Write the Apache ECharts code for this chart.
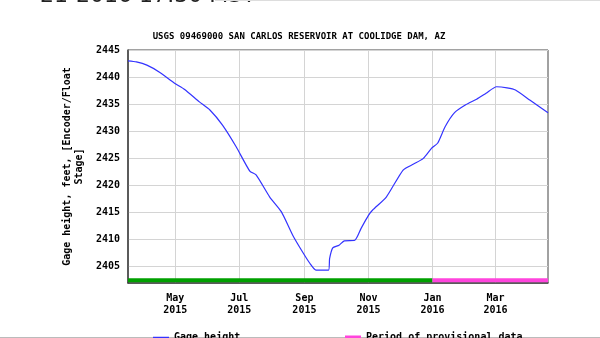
<!DOCTYPE html>
<html>
<head>
<meta charset="utf-8">
<script src="https://cdn.jsdelivr.net/npm/echarts@6/dist/echarts.min.js"></script>
<style>
  html, body { margin: 0; padding: 0; background: #fff; }
  #chart { width: 600px; height: 338px; }
</style>
</head>
<body>
<div id="chart"></div>
<script>
// gage height readings
const dates = ['2015-03-17','2015-03-25','2015-04-04','2015-04-16','2015-04-30','2015-05-10','2015-05-24','2015-06-03','2015-06-15','2015-06-28','2015-07-11','2015-07-17','2015-07-30','2015-08-10','2015-08-21','2015-08-31','2015-09-06','2015-09-12','2015-09-24','2015-09-25','2015-09-28','2015-10-04','2015-10-09','2015-10-19','2015-10-25','2015-11-01','2015-11-05','2015-11-18','2015-12-04','2015-12-14','2015-12-23','2015-12-31','2016-01-06','2016-01-13','2016-01-22','2016-02-02','2016-02-12','2016-02-21','2016-03-02','2016-03-12','2016-03-20','2016-04-03','2016-04-20'];
const gageHeight = [2443.0, 2442.8, 2442.2, 2440.9, 2438.9, 2437.7, 2435.4, 2433.9, 2431.1, 2427.1, 2422.6, 2421.9, 2417.8, 2415.1, 2410.7, 2407.4, 2405.6, 2404.3, 2404.3, 2406.4, 2408.4, 2408.9, 2409.7, 2409.8, 2412.0, 2414.4, 2415.4, 2417.8, 2422.8, 2423.9, 2424.9, 2426.8, 2427.8, 2430.8, 2433.4, 2434.9, 2435.9, 2437.0, 2438.2, 2438.0, 2437.6, 2435.7, 2433.4];

// approved / provisional bars along the bottom
const approvedPeriod = ['2015-03-17', '2016-01-01'];
const provisionalPeriod = ['2016-01-01', '2016-04-20'];
const periodLevel = 2402.4;

const xTicks = ['2015-05-01','2015-07-01','2015-09-01','2015-11-01','2016-01-01','2016-03-01'];
const yTicks = [2405, 2410, 2415, 2420, 2425, 2430, 2435, 2440, 2445];
const months = ['Jan','Feb','Mar','Apr','May','Jun','Jul','Aug','Sep','Oct','Nov','Dec'];

const mono = '"DejaVu Sans Mono", monospace';
const ts = (s) => new Date(s + 'T00:00:00').getTime();

let myChart = echarts.init(document.getElementById('chart'));
let option = {
  animation: false,
  title: {
    text: 'USGS 09469000 SAN CARLOS RESERVOIR AT COOLIDGE DAM, AZ',
    left: 294, textAlign: 'center', top: 27,
    textStyle: { fontFamily: mono, fontSize: 9, fontWeight: 'bold', color: '#000' }
  },
  graphic: [
    {
      // page header that is cut off at the top of the shot
      type: 'text', x: 40, y: 7,
      style: { text: '21-2016 17:30 MST', fontSize: 22, fontFamily: 'DejaVu Sans', fill: '#222', verticalAlign: 'bottom' }
    },
    { type: 'line', shape: { x1: 0, y1: 337.5, x2: 600, y2: 337.5 }, style: { stroke: '#bbb', lineWidth: 1 } },
    { type: 'line', shape: { x1: 215, y1: 0.5, x2: 600, y2: 0.5 }, style: { stroke: '#ddd', lineWidth: 1 } }
  ],
  legend: [
    {
      data: [{ name: 'Gage height', icon: 'rect' }], left: 148, top: 327.5, itemWidth: 16, itemHeight: 1.5,
      textStyle: { fontFamily: mono, fontSize: 10, fontWeight: 'bold', color: '#000' }
    },
    {
      data: [{ name: 'Period of provisional data', icon: 'rect' }], left: 340, top: 327.5, itemWidth: 16, itemHeight: 4,
      textStyle: { fontFamily: mono, fontSize: 10, fontWeight: 'bold', color: '#000' }
    }
  ],
  grid: { left: 128, right: 52, top: 50, bottom: 55, show: true, borderColor: '#444', borderWidth: 1 },
  xAxis: {
    type: 'value',
    min: ts(approvedPeriod[0]),
    max: ts(provisionalPeriod[1]),
    axisLine: { lineStyle: { color: '#444', width: 1.5 } },
    axisTick: { show: false, customValues: xTicks.map(ts) },
    splitLine: { show: true, lineStyle: { color: '#d4d4d4', width: 1 } },
    axisLabel: {
      customValues: xTicks.map(ts),
      margin: 9, lineHeight: 12,
      fontFamily: mono, fontSize: 10, fontWeight: 'bold', color: '#000',
      formatter: function (val) {
        let d = new Date(val);
        return months[d.getMonth()] + '\n' + d.getFullYear();
      }
    }
  },
  yAxis: {
    type: 'value',
    min: 2401.9,
    max: 2445,
    name: 'Gage height, feet, [Encoder/Float\nStage]',
    nameLocation: 'middle',
    nameGap: 38,
    nameTextStyle: { fontFamily: mono, fontSize: 10, fontWeight: 'bold', color: '#000', lineHeight: 12, align: 'center' },
    axisLine: { show: true, lineStyle: { color: '#444', width: 1.5 } },
    axisTick: { show: false, customValues: yTicks },
    splitLine: { show: true, lineStyle: { color: '#d4d4d4', width: 1 } },
    axisLabel: {
      customValues: yTicks,
      margin: 8,
      fontFamily: mono, fontSize: 10, fontWeight: 'bold', color: '#000',
      formatter: function (val) {
        return String(val);
      }
    }
  },
  series: [
    {
      name: 'Approved',
      type: 'line',
      data: approvedPeriod.map((d) => [ts(d), periodLevel]),
      symbol: 'none',
      lineStyle: { color: '#00a000', width: 4 },
      itemStyle: { color: '#00a000' },
      silent: true
    },
    {
      name: 'Period of provisional data',
      type: 'line',
      data: provisionalPeriod.map((d) => [ts(d), periodLevel]),
      symbol: 'none',
      lineStyle: { color: '#ff44dd', width: 4 },
      itemStyle: { color: '#ff44dd' },
      silent: true
    },
    {
      name: 'Gage height',
      type: 'line',
      data: dates.map((d, i) => [ts(d), gageHeight[i]]),
      symbol: 'none',
      smooth: 0.2,
      lineStyle: { color: '#3333ff', width: 1.2 },
      itemStyle: { color: '#3333ff' },
      z: 5
    }
  ]
};
myChart.setOption(option);
</script>
</body>
</html>
